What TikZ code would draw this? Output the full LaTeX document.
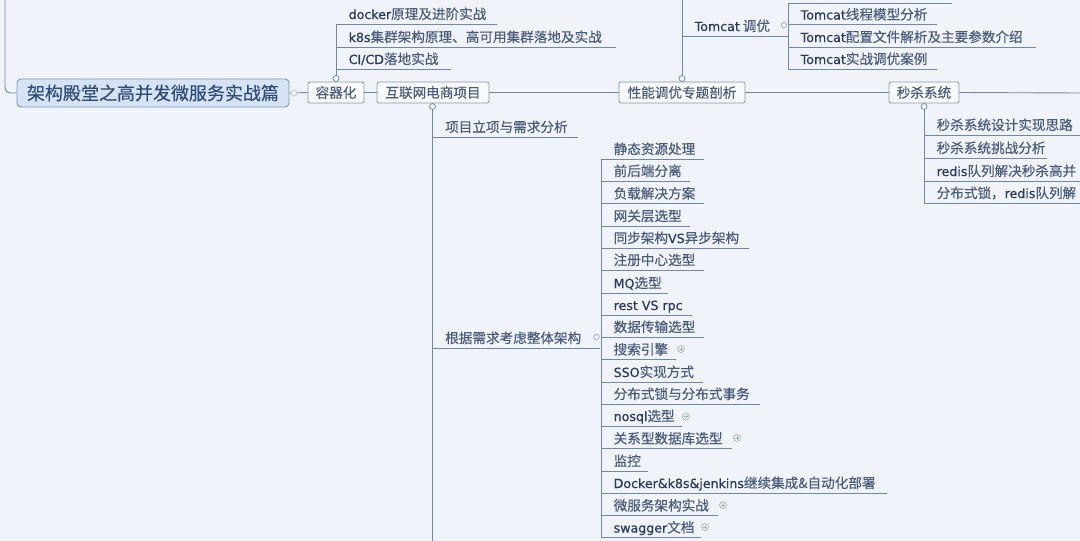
\documentclass[tikz,border=0pt]{standalone}
\usepackage{fontspec}
\setmainfont{Noto Sans CJK SC}[FakeBold=0.25]
\newfontfamily\latf{DejaVu Sans}[FakeBold=0.6]
\usetikzlibrary{calc}
\definecolor{bgc}{HTML}{F0F3F9}
\definecolor{linec}{HTML}{6F89AD}
\definecolor{txtc}{HTML}{4A5C7C}
\definecolor{latc}{HTML}{2A3C5C}
\definecolor{boxb}{HTML}{8596B2}
\definecolor{boxf}{HTML}{F8FAFD}
\definecolor{rootf}{HTML}{D5E3F5}
\definecolor{rootb}{HTML}{7898C6}
\definecolor{roott}{HTML}{2E4C78}
\definecolor{faint}{HTML}{C3CCDA}
\newcommand{\lat}[1]{{\latf\color{latc}\fontsize{12.6}{15}\selectfont #1}}
\tikzset{
  branch/.style={draw=linec, line width=0.9pt},
  leaftext/.style={anchor=base west, inner sep=0pt, text=txtc, font=\fontsize{13.6}{16}\selectfont},
  cbox/.style={draw=boxb, fill=boxf, rounded corners=2pt, line width=0.8pt, inner sep=0pt,
    minimum height=21pt, text=txtc, font=\fontsize{13.6}{16}\selectfont},
  rootbox/.style={draw=rootb, fill=rootf, rounded corners=4pt, line width=0.9pt, inner sep=0pt,
    minimum width=272pt, minimum height=28pt, text=roott, font=\fontsize{18}{21}\selectfont},
  collapse/.style={circle, draw=linec, fill=bgc, line width=0.7pt, inner sep=0pt, minimum size=6pt},
  expand/.style={circle, draw=faint!60!linec, fill=bgc, line width=0.6pt, inner sep=0pt, minimum size=7pt}
}
\newcommand{\mmleaf}[5]{%
  \coordinate (#1-a) at (#2,#3);
  \coordinate (#1-b) at (#4,#3);
  \node[leaftext] (#1) at (#2+12.5,#3-5) {#5};
  \draw[branch] (#1-a) -- (#1-b);
}
\newcommand{\mmplus}[3]{%
  \node[expand] (#1) at (#2,#3) {};
  \draw[draw=faint!60!linec, line width=0.5pt] ($(#1)+(-1.8,0)$) -- ($(#1)+(1.8,0)$)
    ($(#1)+(0,-1.8)$) -- ($(#1)+(0,1.8)$);
}
\begin{document}
\begin{tikzpicture}[x=1pt, y=-1pt]
\useasboundingbox (0,0) rectangle (1080,541);
\fill[bgc] (0,0) rectangle (1080,541);
\clip (0,0) rectangle (1080,541);

% main spine
\node[rootbox] (root) at (153,93) {架构殿堂之高并发微服务实战篇};
\node[cbox, minimum width=56pt] (rq) at (336,92.5) {容器化};
\node[cbox, minimum width=112pt] (hl) at (433,92.5) {互联网电商项目};
\node[cbox, minimum width=126pt] (xn) at (682,92.5) {性能调优专题剖析};
\node[cbox, minimum width=70pt] (ms) at (924,92.5) {秒杀系统};
\coordinate (topleft) at (5,-2);
\coordinate (rightend) at (1082,93);
\draw[branch, rounded corners=6pt] (topleft) |- (root.west);
\draw[branch] (root.east) -- (rq.west);
\draw[branch] (rq.east) -- (hl.west);
\draw[branch] (hl.east) -- (xn.west);
\draw[branch] (xn.east) -- (ms.west);
\draw[branch] (ms.east) -- (rightend);
\node[collapse, draw=faint] (c0) at (294,93) {};

% 容器化
\mmleaf{docker}{336}{24}{497}{\lat{docker}原理及进阶实战}
\mmleaf{k8s}{336}{47}{616}{\lat{k8s}集群架构原理、高可用集群落地及实战}
\mmleaf{cicd}{336}{69}{451}{\lat{CI/CD}落地实战}
\node[collapse] (c1) at (336,78.5) {};
\draw[branch] (c1.north) -- (docker-a);

% 互联网电商项目
\node[collapse] (c2) at (432.5,106.5) {};
\coordinate (hlbot) at (432.5,545);
\draw[branch] (c2.south) -- (hlbot);
\mmleaf{lixiang}{432.5}{137}{578}{项目立项与需求分析}
\mmleaf{genju}{432.5}{348}{600}{根据需求考虑整体架构}
\node[collapse, minimum size=5.5pt, draw=linec!70] (c3) at (596.5,337) {};

\mmleaf{g1}{601}{159}{704}{静态资源处理}
\mmleaf{g2}{601}{181}{690}{前后端分离}
\mmleaf{g3}{601}{203.5}{704}{负载解决方案}
\mmleaf{g4}{601}{226}{690}{网关层选型}
\mmleaf{g5}{601}{248}{749}{同步架构\lat{VS}异步架构}
\mmleaf{g6}{601}{270}{704}{注册中心选型}
\mmleaf{g7}{601}{293}{668}{\lat{MQ}选型}
\mmleaf{g8}{601}{315}{692}{\lat{rest VS rpc}}
\mmleaf{g9}{601}{337}{704}{数据传输选型}
\mmleaf{g10}{601}{359.5}{676}{搜索引擎}
\mmleaf{g11}{601}{382}{703}{\lat{SSO}实现方式}
\mmleaf{g12}{601}{404}{760}{分布式锁与分布式事务}
\mmleaf{g13}{601}{426}{682}{\lat{nosql}选型}
\mmleaf{g14}{601}{448.5}{732}{关系型数据库选型}
\mmleaf{g15}{601}{471}{648}{监控}
\mmleaf{g16}{601}{493}{887}{\lat{Docker\&k8s\&jenkins}继续集成\&自动化部署}
\mmleaf{g17}{601}{515.5}{718}{微服务架构实战}
\mmleaf{g18}{601}{537.5}{701}{\lat{swagger}文档}
\draw[branch] (g1-a) -- (g18-a);
\mmplus{p10}{681}{349}
\mmplus{p13}{686}{416.5}
\mmplus{p14}{737}{438}
\mmplus{p17}{723}{505}
\mmplus{p18}{705}{527}

% 性能调优专题剖析
\node[collapse] (c4) at (682,78.5) {};
\coordinate (xntop) at (682,-2);
\draw[branch] (c4.north) -- (xntop);
\mmleaf{tomcat}{682}{36}{788}{\lat{Tomcat} 调优}
\node[collapse, minimum size=5.5pt, draw=linec!70] (c5) at (784,25) {};
\coordinate (tctop-a) at (788,3);
\coordinate (tctop-b) at (952,3);
\draw[branch] (tctop-a) -- (tctop-b);
\mmleaf{tc1}{788}{24.5}{937}{\lat{Tomcat}线程模型分析}
\mmleaf{tc2}{788}{47}{1036}{\lat{Tomcat}配置文件解析及主要参数介绍}
\mmleaf{tc3}{788}{69}{937}{\lat{Tomcat}实战调优案例}
\draw[branch] (tctop-a) -- (tc3-a);

% 秒杀系统
\node[collapse] (c6) at (924,106.5) {};
\mmleaf{ms1}{924}{135}{1082}{秒杀系统设计实现思路}
\mmleaf{ms2}{924}{158}{1047}{秒杀系统挑战分析}
\mmleaf{ms3}{924}{181}{1082}{\lat{redis}队列解决秒杀高并}
\mmleaf{ms4}{924}{203}{1082}{分布式锁，\lat{redis}队列解}
\draw[branch] (c6.south) -- (ms4-a);
\end{tikzpicture}
\end{document}
